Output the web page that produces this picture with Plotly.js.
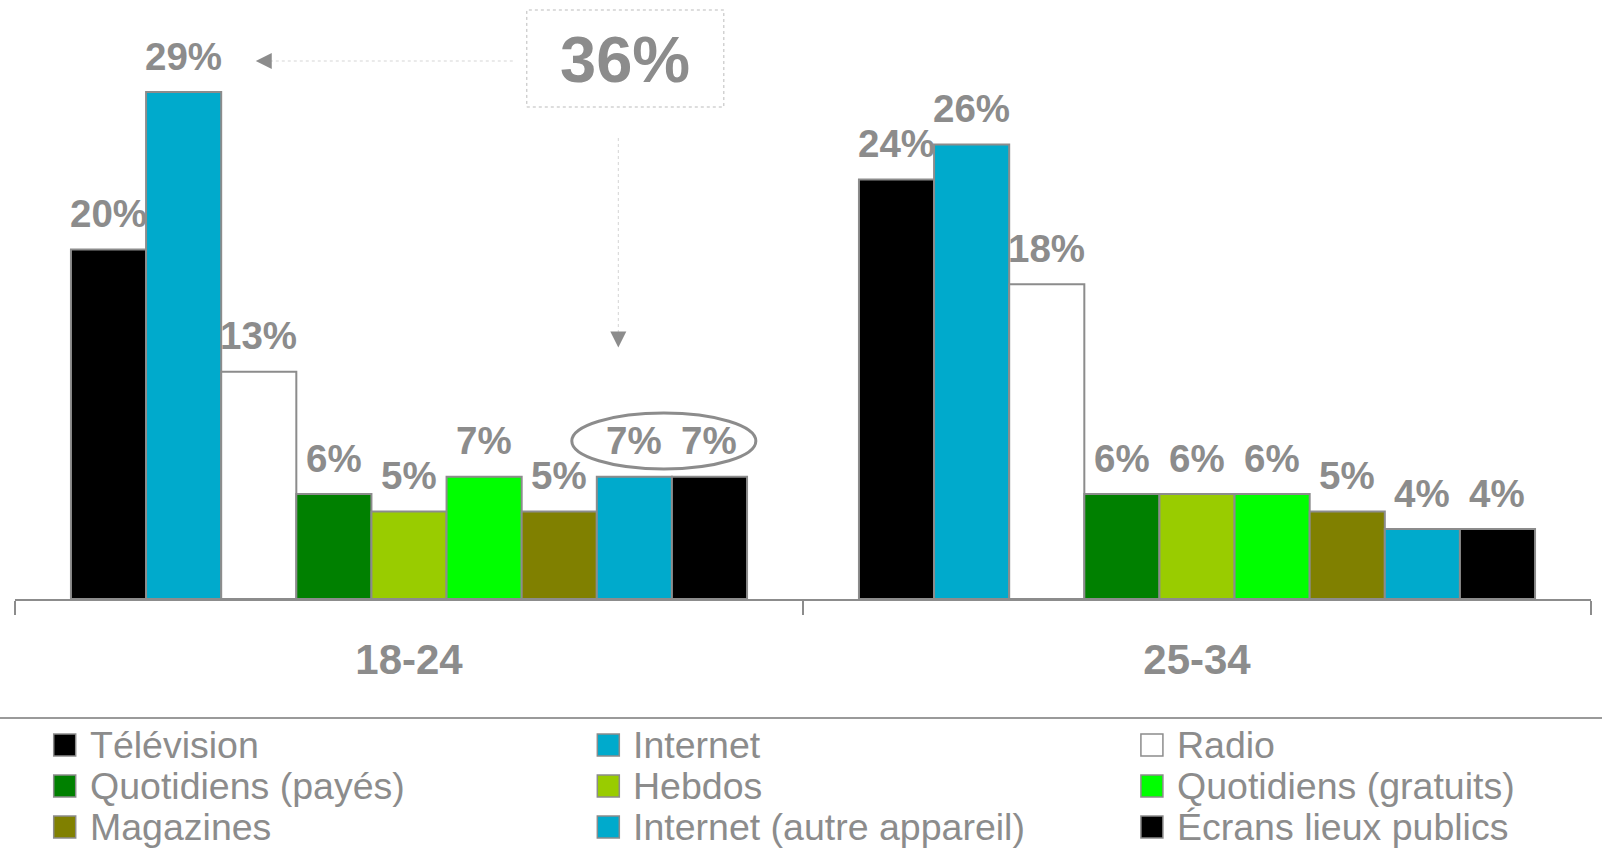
<!DOCTYPE html>
<html>
<head>
<meta charset="utf-8">
<script src="https://cdn.plot.ly/plotly-3.0.1.min.js"></script>
<style>html,body{margin:0;padding:0;background:#fff;}#chart{width:1602px;height:849px;}</style>
</head>
<body>
<div id="chart"></div>
<script>
// ---- data ----
const categories = ['18-24', '25-34'];
const seriesNames = ['Télévision', 'Internet', 'Radio', 'Quotidiens (payés)', 'Hebdos',
  'Quotidiens (gratuits)', 'Magazines', 'Internet (autre appareil)', 'Écrans lieux publics'];
const seriesColors = ['#000000', '#00AACC', '#FFFFFF', '#008000', '#99CC00',
  '#00FF00', '#808000', '#00AACC', '#000000'];
const television = [20, 24];
const internet = [29, 26];
const radio = [13, 18];
const quotidiensPayes = [6, 6];
const hebdos = [5, 6];
const quotidiensGratuits = [7, 6];
const magazines = [5, 5];
const internetAutre = [7, 4];
const ecrans = [7, 4];
const seriesValues = [television, internet, radio, quotidiensPayes, hebdos,
  quotidiensGratuits, magazines, internetAutre, ecrans];
const calloutText = '36%';

// ---- layout constants ----
const W = 1602, H = 849;
const M = {l: 15.3, r: 11, t: 20, b: 250};
const plotW = W - M.l - M.r, plotH = H - M.t - M.b;
const GRAY = '#8c8c8c';
const FONT = 'Liberation Sans, Arial, sans-serif';
const bargap = 0.142;
const px2x = px => (px - M.l) / plotW;
const py2y = py => (H - M.b - py) / plotH;

const traces = seriesNames.map((name, i) => ({
  type: 'bar', name: name, x: categories, y: seriesValues[i],
  marker: {color: seriesColors[i], line: {color: GRAY, width: 2}},
  showlegend: false, hoverinfo: 'skip'
}));

const annotations = [];
const shapes = [];
const nS = seriesNames.length;
// value labels above bars
seriesValues.forEach((vals, i) => {
  vals.forEach((v, g) => {
    annotations.push({
      xref: 'x', yref: 'y', x: g + (i - (nS - 1) / 2) * (1 - bargap) / nS, y: v,
      text: '<b>' + v + '%</b>', showarrow: false, yanchor: 'middle', yshift: 36,
      font: {family: FONT, size: 38.5, color: GRAY}
    });
  });
});

// legend (manual, 3 columns)
seriesNames.forEach((name, i) => {
  const col = i % 3, row = Math.floor(i / 3);
  const left = 54 + col * 543.5, cy = 745 + row * 41;
  shapes.push({type: 'rect', xref: 'paper', yref: 'paper',
    x0: px2x(left), x1: px2x(left + 22), y0: py2y(cy - 11), y1: py2y(cy + 11),
    fillcolor: seriesColors[i], line: {color: GRAY, width: 1.5}});
  annotations.push({xref: 'paper', yref: 'paper', x: px2x(left + 34), y: py2y(cy),
    xanchor: 'left', yanchor: 'middle', text: name, showarrow: false,
    font: {family: FONT, size: 37.5, color: GRAY}});
});
// separator line above legend
shapes.push({type: 'line', xref: 'paper', yref: 'paper', x0: px2x(0), x1: px2x(W),
  y0: py2y(718), y1: py2y(718), line: {color: '#9a9a9a', width: 2}});

// callout box
shapes.push({type: 'rect', xref: 'paper', yref: 'paper', x0: px2x(527), x1: px2x(724),
  y0: py2y(107), y1: py2y(10), line: {color: '#bbbbbb', width: 1, dash: 'dot'}});
annotations.push({xref: 'paper', yref: 'paper', x: px2x(625.5), y: py2y(60),
  xanchor: 'center', yanchor: 'middle', text: '<b>' + calloutText + '</b>', showarrow: false,
  font: {family: FONT, size: 65, color: GRAY}});
// arrows
shapes.push({type: 'line', xref: 'paper', yref: 'paper', x0: px2x(513), x1: px2x(268),
  y0: py2y(61), y1: py2y(61), line: {color: '#d5d5d5', width: 1, dash: 'dot'}});
annotations.push({xref: 'paper', yref: 'paper', x: px2x(256), y: py2y(61), text: '',
  showarrow: true, arrowhead: 2, arrowsize: 3.2, arrowwidth: 1, arrowcolor: GRAY, ax: 10, ay: 0});
shapes.push({type: 'line', xref: 'paper', yref: 'paper', x0: px2x(618.5), x1: px2x(618.5),
  y0: py2y(138), y1: py2y(336), line: {color: '#d5d5d5', width: 1, dash: 'dot'}});
annotations.push({xref: 'paper', yref: 'paper', x: px2x(618.5), y: py2y(347.5), text: '',
  showarrow: true, arrowhead: 2, arrowsize: 3.2, arrowwidth: 1, arrowcolor: GRAY, ax: 0, ay: -10});
// ellipse highlighting the two 7% labels
shapes.push({type: 'circle', xref: 'paper', yref: 'paper', x0: px2x(572), x1: px2x(756),
  y0: py2y(469), y1: py2y(413), line: {color: GRAY, width: 3}});

const layout = {
  width: W, height: H, margin: M,
  paper_bgcolor: '#fff', plot_bgcolor: '#fff',
  barmode: 'group', bargap: bargap, bargroupgap: 0,
  showlegend: false,
  font: {family: FONT, color: GRAY},
  xaxis: {type: 'category', showline: true, linecolor: GRAY, linewidth: 2,
    ticks: 'outside', tickson: 'boundaries', ticklen: 14, tickwidth: 1.5, tickcolor: GRAY,
    tickfont: {family: FONT, size: 42, color: GRAY, weight: 'bold'},
    ticklabelstandoff: 23, showgrid: false, zeroline: false, fixedrange: true},
  yaxis: {range: [0, plotH / 17.48], visible: false, showgrid: false, zeroline: false, fixedrange: true},
  annotations: annotations, shapes: shapes
};
Plotly.newPlot('chart', traces, layout, {staticPlot: true, displayModeBar: false});
</script>
</body>
</html>
